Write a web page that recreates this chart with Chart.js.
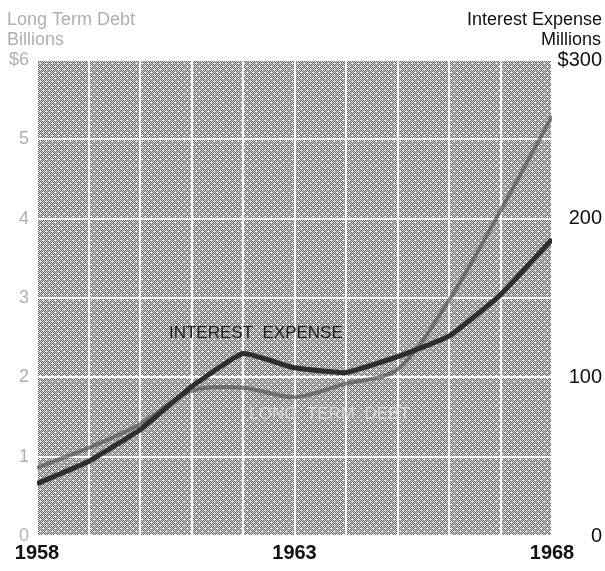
<!DOCTYPE html>
<html>
<head>
<meta charset="utf-8">
<script src="https://cdn.jsdelivr.net/npm/chart.js@4.4.1/dist/chart.umd.min.js"></script>
<style>
  html, body { margin: 0; padding: 0; background: #fff; }
  #wrap { width: 605px; height: 571px; position: relative; }
</style>
</head>
<body>
<div id="wrap"><canvas id="c" width="605" height="571"></canvas></div>
<script>
// ---- Data ----
const years = [1958, 1959, 1960, 1961, 1962, 1963, 1964, 1965, 1966, 1967, 1968];
const longTermDebt = [0.86, 1.11, 1.41, 1.83, 1.87, 1.75, 1.92, 2.10, 2.97, 4.10, 5.29]; // $ billions
const interestExpense = [33, 47, 67, 94, 115, 106, 103, 113, 126, 152, 187]; // $ millions
const yearLabels = [1958, 1963, 1968];
const leftTicks = [0, 1, 2, 3, 4, 5, 6];
const rightTicks = [0, 100, 200, 300];

const FONT = '"Liberation Sans", Arial, Helvetica, sans-serif';

// halftone-like pattern for plot background
function makePattern(ctx) {
  const N = 6;
  const t = document.createElement('canvas');
  t.width = N; t.height = N;
  const g = t.getContext('2d');
  for (let y = 0; y < N; y++) {
    for (let x = 0; x < N; x++) {
      g.fillStyle = ((x + y) % 2) ? '#6c6c6c' : '#d2d2d2';
      g.fillRect(x, y, 1, 1);
    }
  }
  g.fillStyle = '#fafafa';
  [[0,0],[1,0],[3,3],[4,3]].forEach(p => g.fillRect(p[0], p[1], 1, 1));
  return ctx.createPattern(t, 'repeat');
}

const bgPlugin = {
  id: 'bg',
  beforeDraw(chart) {
    const { ctx, chartArea: a } = chart;
    ctx.save();
    ctx.fillStyle = makePattern(ctx);
    ctx.fillRect(a.left, a.top, a.right - a.left, a.bottom - a.top);
    ctx.restore();
  }
};

const textPlugin = {
  id: 'texts',
  afterDraw(chart) {
    const { ctx } = chart;
    const xs = chart.scales.x, yl = chart.scales.y;
    ctx.save();
    ctx.textBaseline = 'alphabetic';
    // left title
    ctx.font = '18px ' + FONT;
    ctx.fillStyle = '#b0b0b0';
    ctx.textAlign = 'left';
    ctx.fillText('Long Term Debt', 7, 25);
    ctx.fillText('Billions', 7, 45);
    // right title
    ctx.fillStyle = '#111';
    ctx.textAlign = 'right';
    ctx.fillText('Interest Expense', 602, 25);
    ctx.fillText('Millions', 601, 45);
    // in-plot labels
    ctx.textAlign = 'center';
    ctx.textBaseline = 'middle';
    ctx.font = '17px ' + FONT;
    ctx.fillStyle = '#1c1c1c';
    ctx.fillText('INTEREST  EXPENSE', xs.getPixelForValue(1962.25), yl.getPixelForValue(2.56));
    ctx.fillStyle = '#d6d6d6';
    ctx.fillText('LONG  TERM  DEBT', xs.getPixelForValue(1963.68), yl.getPixelForValue(1.53));
    ctx.restore();
  }
};

new Chart(document.getElementById('c'), {
  type: 'line',
  data: {
    datasets: [
      {
        label: 'Interest Expense',
        data: years.map((y, i) => ({ x: y, y: interestExpense[i] })),
        yAxisID: 'y2',
        borderColor: '#2e2e2e',
        borderWidth: 5,
        pointRadius: 0,
        tension: 0.12,
        borderCapStyle: 'butt'
      },
      {
        label: 'Long Term Debt',
        data: years.map((y, i) => ({ x: y, y: longTermDebt[i] })),
        yAxisID: 'y',
        borderColor: 'rgba(85,85,85,0.7)',
        borderWidth: 4,
        pointRadius: 0,
        tension: 0.3,
        borderCapStyle: 'butt'
      }
    ]
  },
  options: {
    responsive: false,
    animation: false,
    layout: { padding: { top: 60, right: 3, left: 0, bottom: 0 } },
    plugins: { legend: { display: false }, tooltip: { enabled: false } },
    scales: {
      x: {
        type: 'linear',
        min: years[0],
        max: years[years.length - 1],
        afterBuildTicks(s) { s.ticks = years.map(v => ({ value: v })); },
        afterFit(s) { s.height = 35; },
        grid: { color: '#ffffff', lineWidth: 2, drawTicks: false },
        border: { display: false },
        ticks: {
          padding: 5,
          autoSkip: false,
          maxRotation: 0,
          color: '#111',
          font: { family: FONT, size: 20, weight: 'bold' },
          callback: v => yearLabels.includes(v) ? String(v) : ''
        }
      },
      y: {
        position: 'left',
        min: 0, max: 6,
        afterBuildTicks(s) { s.ticks = leftTicks.map(v => ({ value: v })); },
        afterFit(s) { s.width = 37; },
        grid: { color: '#ffffff', lineWidth: 2, drawTicks: false },
        border: { display: false },
        ticks: {
          padding: 8,
          color: '#b0b0b0',
          font: { family: FONT, size: 18 },
          callback: v => v === 6 ? '$6' : String(v)
        }
      },
      y2: {
        position: 'right',
        min: 0, max: 300,
        afterBuildTicks(s) { s.ticks = rightTicks.map(v => ({ value: v })); },
        afterFit(s) { s.width = 50; },
        grid: { display: false, drawTicks: false },
        border: { display: false },
        ticks: {
          crossAlign: 'far',
          color: '#111',
          font: { family: FONT, size: 20 },
          callback: v => v === 300 ? '$300' : String(v)
        }
      }
    }
  },
  plugins: [bgPlugin, textPlugin]
});
</script>
</body>
</html>
